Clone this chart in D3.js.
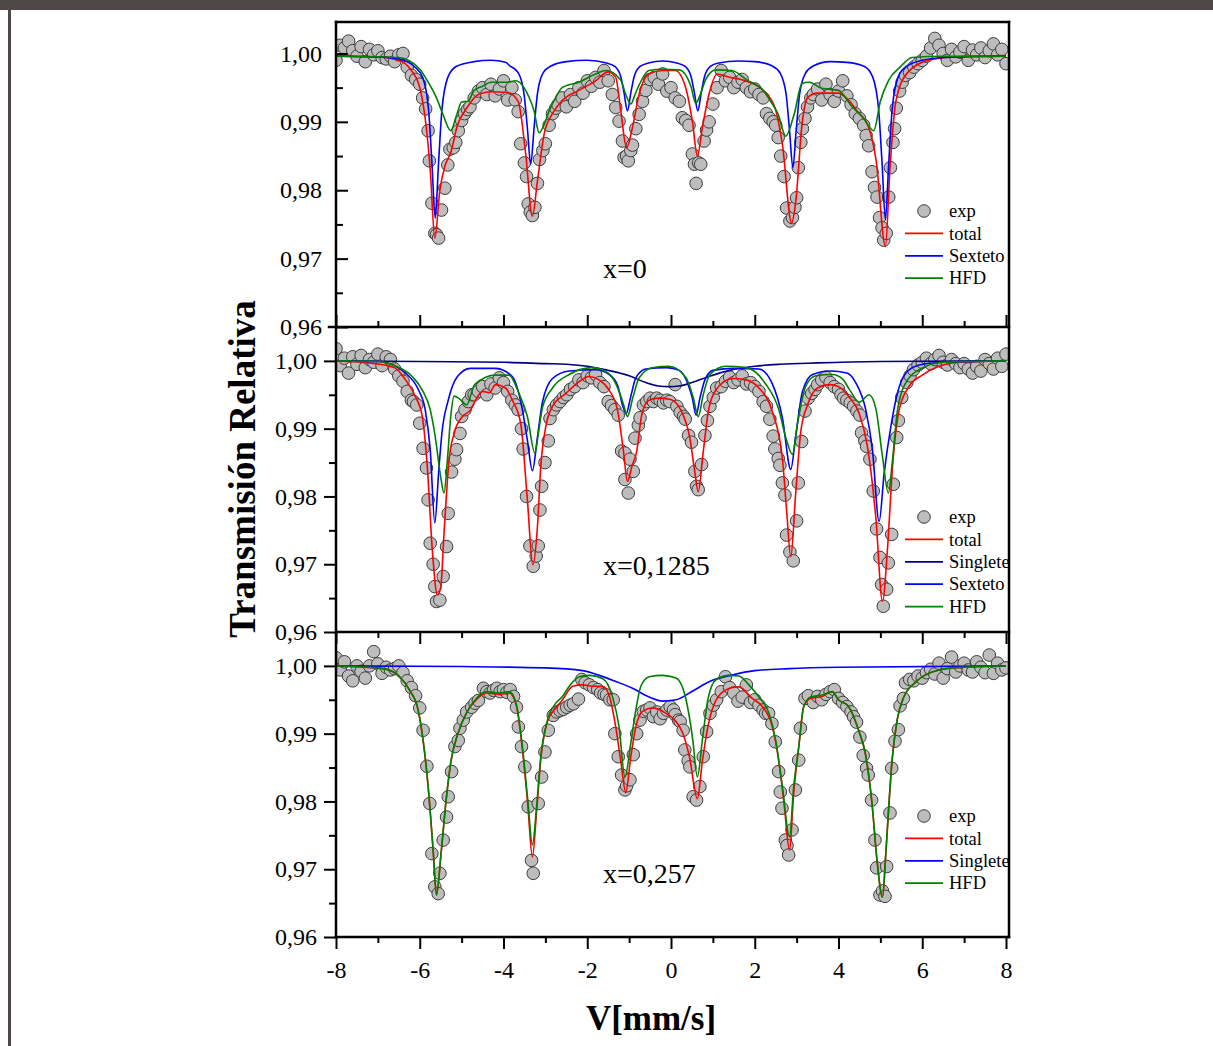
<!DOCTYPE html>
<html>
<head>
<meta charset="utf-8">
<script src="https://cdn.jsdelivr.net/npm/d3@7"></script>
<style>
  body { margin: 0; background: #fff; }
  svg { display: block; font-family: "Liberation Serif", "Times New Roman", serif; }
</style>
</head>
<body>
<svg id="chart" width="1213" height="1046"></svg>
<script>
// axis ticks
var velocityTicks = [-8, -6, -4, -2, 0, 2, 4, 6, 8];
var velocityMinor = [-7, -5, -3, -1, 1, 3, 5, 7];
var transTicks = [0.96, 0.97, 0.98, 0.99, 1.0];
var transMinor = [0.965, 0.975, 0.985, 0.995];

// ---- x = 0 ----
var exp0 = [[-8.0,0.9990],[-7.9,1.0012],[-7.8,1.0008],[-7.7,1.0018],[-7.6,1.0004],[-7.5,0.9996],[-7.4,1.0010],[-7.3,0.9988],[-7.2,1.0006],[-7.1,0.9998],
  [-7.0,1.0004],[-6.9,0.9994],[-6.8,0.9992],[-6.7,0.9996],[-6.6,0.9988],[-6.5,0.9998],[-6.4,1.0000],[-6.3,0.9980],[-6.2,0.9968],[-6.1,0.9962],
  [-6.0,0.9955],[-5.93,0.9935],[-5.86,0.9919],[-5.8,0.9887],[-5.77,0.9843],[-5.71,0.9781],[-5.64,0.9737],[-5.6,0.9735],[-5.55,0.9730],[-5.48,0.9771],
  [-5.4,0.9803],[-5.33,0.9837],[-5.28,0.9860],[-5.2,0.9862],[-5.14,0.9870],[-5.08,0.9887],[-5.0,0.9902],[-4.93,0.9912],[-4.86,0.9918],
  [-4.8,0.9922],[-4.7,0.9935],[-4.6,0.9945],[-4.5,0.9950],[-4.4,0.9940],[-4.3,0.9955],[-4.2,0.9938],[-4.1,0.9948],[-4.0,0.9960],[-3.9,0.9932],[-3.8,0.9950],
  [-3.72,0.9932],[-3.65,0.9915],[-3.59,0.9868],[-3.5,0.9840],[-3.45,0.9820],[-3.41,0.9780],[-3.36,0.9768],[-3.31,0.9763],[-3.25,0.9775],[-3.19,0.9810],
  [-3.14,0.9845],[-3.06,0.9858],[-3.0,0.9868],[-2.91,0.9895],[-2.83,0.9912],[-2.75,0.9920],
  [-2.7,0.9925],[-2.6,0.9935],[-2.5,0.9922],[-2.4,0.9940],[-2.3,0.9930],[-2.2,0.9950],[-2.1,0.9942],[-2.0,0.9960],[-1.9,0.9952],[-1.8,0.9965],
  [-1.7,0.9958],[-1.6,0.9975],[-1.5,0.9960],
  [-1.4,0.9940],[-1.32,0.9921],[-1.24,0.9901],[-1.16,0.9872],[-1.12,0.9848],[-1.06,0.9850],[-1.02,0.9843],[-0.96,0.9858],[-0.92,0.9866],[-0.84,0.9890],
  [-0.76,0.9911],[-0.68,0.9930],[-0.6,0.9946],
  [-0.5,0.9962],[-0.4,0.9965],[-0.3,0.9955],[-0.2,0.9970],[-0.1,0.9945],[0.0,0.9950],[0.1,0.9935],
  [0.2,0.9930],[0.27,0.9906],[0.35,0.9902],[0.43,0.9895],[0.51,0.9853],[0.56,0.9838],[0.6,0.9810],[0.66,0.9840],[0.71,0.9838],[0.79,0.9872],
  [0.85,0.9888],[0.91,0.9900],[1.0,0.9926],
  [1.1,0.9950],[1.2,0.9975],[1.3,0.9960],[1.4,0.9965],[1.5,0.9950],[1.6,0.9958],[1.7,0.9962],[1.8,0.9950],[1.9,0.9944],[2.0,0.9948],[2.1,0.9940],
  [2.2,0.9935],[2.28,0.9912],[2.36,0.9905],[2.44,0.9900],[2.5,0.9895],[2.56,0.9877],[2.62,0.9850],[2.7,0.9820],[2.76,0.9774],[2.84,0.9755],
  [2.9,0.9760],[2.96,0.9775],[3.0,0.9789],[3.04,0.9833],[3.1,0.9870],[3.14,0.9890],[3.2,0.9905],[3.26,0.9922],[3.34,0.9935],
  [3.4,0.9940],[3.5,0.9948],[3.6,0.9932],[3.7,0.9955],[3.8,0.9940],[3.9,0.9930],[4.0,0.9945],[4.1,0.9960],[4.2,0.9938],[4.3,0.9925],[4.4,0.9912],[4.5,0.9905],
  [4.6,0.9895],[4.66,0.9880],[4.72,0.9865],[4.8,0.9827],[4.86,0.9804],[4.92,0.9790],[4.98,0.9760],[5.04,0.9745],[5.08,0.9727],[5.14,0.9737],
  [5.2,0.9790],[5.24,0.9833],[5.3,0.9870],[5.34,0.9890],[5.38,0.9920],[5.46,0.9945],[5.52,0.9958],
  [5.6,0.9968],[5.7,0.9972],[5.8,0.9980],[5.9,0.9985],
  [6.0,0.9990],[6.1,0.9996],[6.2,1.0008],[6.3,1.0022],[6.4,1.0012],[6.5,1.0000],[6.6,0.9990],[6.7,1.0006],[6.8,0.9995],[6.9,1.0002],
  [7.0,1.0010],[7.1,0.9990],[7.2,1.0005],[7.3,0.9998],[7.4,1.0008],[7.5,0.9994],[7.6,1.0004],[7.7,1.0014],[7.8,0.9998],[7.9,1.0006],[8.0,0.9985]];
var total0 = [[-8,0.9997],[-7.5,0.9996],[-7,0.9995],[-6.5,0.999],[-6.2,0.9975],[-6.0,0.995],[-5.85,0.9895],[-5.75,0.983],[-5.64,0.973],[-5.52,0.98],
  [-5.4,0.9835],[-5.26,0.9855],[-5.1,0.9895],[-4.9,0.9918],[-4.6,0.994],[-4.3,0.9944],[-3.9,0.9943],[-3.65,0.993],[-3.47,0.9853],[-3.31,0.9762],
  [-3.19,0.9813],[-3.03,0.9882],[-2.83,0.9912],[-2.6,0.9931],[-2.2,0.9946],[-1.8,0.996],[-1.5,0.9973],[-1.32,0.9965],[-1.2,0.9916],[-1.06,0.9862],
  [-0.92,0.9892],[-0.76,0.9941],[-0.53,0.997],[-0.2,0.9975],[0.1,0.9975],[0.35,0.995],[0.51,0.9901],[0.63,0.985],[0.75,0.9892],[0.91,0.9941],
  [1.1,0.997],[1.35,0.9966],[1.82,0.9959],[2.2,0.9946],[2.48,0.9921],[2.66,0.9867],[2.88,0.9752],[2.98,0.9784],[3.13,0.9897],[3.27,0.9936],
  [3.5,0.9942],[4.0,0.9942],[4.25,0.9931],[4.44,0.9916],[4.72,0.9892],[4.9,0.9843],[5.12,0.9718],[5.23,0.9833],[5.37,0.993],[5.65,0.9972],
  [6.2,0.9991],[7,0.9996],[8,0.9997]];
var sexteto0 = [[-8,0.9996],[-7,0.9995],[-6.5,0.9992],[-6.13,0.9981],[-5.93,0.9965],[-5.79,0.9918],[-5.71,0.9841],[-5.63,0.9759],[-5.55,0.9841],[-5.47,0.9918],
  [-5.33,0.9965],[-5.13,0.9981],[-4.7,0.9988],[-4.3,0.999],[-3.95,0.9987],[-3.85,0.9982],[-3.65,0.9972],[-3.51,0.9941],[-3.43,0.9891],[-3.35,0.9838],
  [-3.27,0.9891],[-3.19,0.9941],[-3.05,0.9972],[-2.85,0.9982],[-2.5,0.9988],[-2.0,0.999],[-1.54,0.9986],[-1.34,0.9981],[-1.2,0.9966],[-1.12,0.9942],
  [-1.04,0.9916],[-0.96,0.9942],[-0.88,0.9966],[-0.74,0.9981],[-0.54,0.9986],[-0.2,0.9989],[0.14,0.9986],[0.34,0.9981],[0.48,0.9966],[0.56,0.9942],
  [0.64,0.9916],[0.72,0.9942],[0.8,0.9966],[0.94,0.9981],[1.14,0.9986],[1.6,0.9989],[2.0,0.9988],[2.41,0.9982],[2.61,0.9971],[2.75,0.994],
  [2.83,0.9888],[2.91,0.9833],[2.99,0.9888],[3.07,0.994],[3.21,0.9971],[3.41,0.9982],[3.8,0.9988],[4.2,0.9987],[4.62,0.9981],[4.82,0.9965],
  [4.96,0.9917],[5.04,0.984],[5.12,0.9757],[5.2,0.984],[5.28,0.9917],[5.42,0.9965],[5.62,0.9981],[6.0,0.999],[6.5,0.9994],[7,0.9995],[8,0.9996]];
var hfd0 = [[-8,0.9996],[-7,0.9995],[-6.5,0.9994],[-6.0,0.9977],[-5.77,0.9955],[-5.6,0.9935],[-5.44,0.991],[-5.26,0.9887],[-5.12,0.991],[-5.0,0.9929],
  [-4.85,0.993],[-4.7,0.9946],[-4.5,0.9952],[-4.3,0.9958],[-3.9,0.9958],[-3.71,0.996],[-3.51,0.995],[-3.39,0.9936],[-3.27,0.9916],[-3.15,0.9884],
  [-3.03,0.9896],[-2.91,0.9916],[-2.75,0.9936],[-2.6,0.995],[-2.2,0.9958],[-1.8,0.997],[-1.55,0.9975],[-1.2,0.9961],[-1.08,0.994],[-0.96,0.9926],
  [-0.86,0.994],[-0.76,0.9954],[-0.53,0.9975],[-0.2,0.9977],[0.2,0.9976],[0.47,0.9953],[0.59,0.9927],[0.7,0.994],[0.83,0.9962],[1.07,0.9976],
  [1.45,0.9975],[1.82,0.9961],[2.2,0.9946],[2.38,0.993],[2.56,0.9911],[2.74,0.9879],[2.94,0.9911],[3.13,0.9956],[3.3,0.9958],[3.6,0.9949],
  [4.0,0.9946],[4.3,0.9924],[4.6,0.9905],[4.84,0.9887],[5.0,0.993],[5.19,0.996],[5.47,0.998],[5.76,0.9994],[6.5,0.9996],[8,0.9996]];

// ---- x = 0,1285 ----
var exp1285 = [[-8.0,1.0018],[-7.9,0.9993],[-7.8,1.0004],[-7.7,0.9982],[-7.6,1.0006],[-7.5,0.9995],[-7.4,1.0008],[-7.3,0.9990],[-7.2,1.0002],[-7.1,0.9998],
  [-7.0,1.0010],[-6.9,0.9993],[-6.8,1.0006],[-6.7,1.0002],[-6.6,0.9988],[-6.5,0.9978],[-6.4,0.9970],[-6.3,0.9955],
  [-6.2,0.9942],[-6.15,0.9940],[-6.07,0.9935],[-6.0,0.9908],[-5.92,0.9871],[-5.84,0.9842],[-5.8,0.9795],[-5.75,0.9731],[-5.68,0.9700],[-5.64,0.9667],
  [-5.6,0.9645],[-5.52,0.9647],[-5.44,0.9682],[-5.36,0.9726],[-5.32,0.9775],[-5.24,0.9836],[-5.16,0.9855],[-5.12,0.9869],[-5.04,0.9893],[-5.0,0.9918],
  [-4.92,0.9928],[-4.84,0.9940],[-4.76,0.9950],
  [-4.7,0.9950],[-4.6,0.9955],[-4.5,0.9962],[-4.4,0.9950],[-4.3,0.9966],[-4.2,0.9960],[-4.1,0.9975],[-4.0,0.9968],[-3.9,0.9955],
  [-3.8,0.9942],[-3.72,0.9935],[-3.65,0.9928],[-3.57,0.9900],[-3.53,0.9870],[-3.45,0.9800],[-3.37,0.9727],[-3.29,0.9697],[-3.22,0.9712],[-3.17,0.9727],
  [-3.13,0.9780],[-3.09,0.9815],[-3.01,0.9850],[-2.93,0.9882],[-2.89,0.9915],[-2.81,0.9928],[-2.73,0.9935],[-2.65,0.9940],[-2.57,0.9946],[-2.49,0.9950],
  [-2.4,0.9958],[-2.3,0.9962],[-2.2,0.9972],[-2.1,0.9968],[-2.0,0.9978],[-1.9,0.9975],[-1.8,0.9980],[-1.7,0.9968],[-1.6,0.9962],
  [-1.5,0.9940],[-1.42,0.9934],[-1.34,0.9928],[-1.26,0.9920],[-1.18,0.9867],[-1.1,0.9825],[-1.1,0.9864],[-1.02,0.9805],[-0.98,0.9855],[-0.9,0.9837],
  [-0.86,0.9886],[-0.78,0.9905],[-0.74,0.9916],[-0.66,0.9935],[-0.58,0.9940],[-0.5,0.9945],[-0.42,0.9940],[-0.34,0.9945],[-0.26,0.9942],[-0.18,0.9938],
  [-0.1,0.9942],[-0.03,0.9940],[0.1,0.9965],[0.14,0.9933],[0.22,0.9924],[0.3,0.9918],[0.34,0.9914],[0.42,0.9890],[0.49,0.9880],[0.57,0.9837],
  [0.61,0.9815],[0.65,0.9810],[0.73,0.9847],[0.81,0.9890],[0.87,0.9912],[0.93,0.9933],[1.01,0.9946],[1.09,0.9960],
  [1.2,0.9962],[1.3,0.9970],[1.4,0.9976],[1.5,0.9968],[1.6,0.9972],[1.7,0.9978],[1.8,0.9966],[1.9,0.9968],[2.0,0.9962],[2.1,0.9955],
  [2.2,0.9940],[2.28,0.9933],[2.36,0.9914],[2.44,0.9889],[2.48,0.9870],[2.56,0.9856],[2.6,0.9846],[2.66,0.9820],[2.72,0.9802],[2.76,0.9743],
  [2.84,0.9718],[2.92,0.9705],[3.0,0.9764],[3.04,0.9820],[3.12,0.9881],[3.2,0.9926],[3.28,0.9945],[3.36,0.9952],
  [3.44,0.9958],[3.5,0.9965],[3.6,0.9972],[3.7,0.9976],[3.8,0.9968],[3.9,0.9962],[4.0,0.9958],[4.06,0.9950],
  [4.12,0.9945],[4.2,0.9942],[4.28,0.9938],[4.36,0.9933],[4.44,0.9926],[4.51,0.9920],[4.55,0.9894],[4.63,0.9882],[4.67,0.9874],[4.75,0.9855],
  [4.83,0.9808],[4.91,0.9752],[4.99,0.9710],[5.03,0.9670],[5.07,0.9638],[5.15,0.9663],[5.19,0.9702],[5.27,0.9744],[5.31,0.9818],[5.39,0.9887],
  [5.43,0.9912],[5.51,0.9946],[5.63,0.9968],[5.71,0.9978],[5.79,0.9987],
  [5.9,0.9994],[6.0,0.9998],[6.1,1.0004],[6.2,0.9996],[6.3,1.0002],[6.4,1.0008],[6.5,0.9998],[6.6,0.9994],[6.7,1.0002],[6.8,0.9996],[6.9,0.9990],
  [7.0,0.9996],[7.1,0.9988],[7.2,0.9982],[7.3,0.9992],[7.4,0.9985],[7.5,1.0002],[7.6,0.9996],[7.7,0.9988],[7.8,1.0004],[7.9,0.9992],[8.0,1.0010]];
var total1285 = [[-8,1.0],[-7.2,0.9997],[-6.6,0.999],[-6.34,0.9972],[-6.1,0.9947],[-5.94,0.9918],[-5.82,0.9844],[-5.7,0.9721],[-5.58,0.9655],[-5.5,0.9665],
  [-5.42,0.9746],[-5.3,0.9854],[-5.18,0.9893],[-4.98,0.9918],[-4.78,0.9928],[-4.7,0.9938],[-4.5,0.9955],[-4.34,0.9953],[-4.19,0.9965],[-3.95,0.996],
  [-3.79,0.9942],[-3.59,0.9908],[-3.43,0.9795],[-3.3,0.9699],[-3.19,0.9755],[-3.11,0.9844],[-2.99,0.9903],[-2.83,0.9933],[-2.51,0.9952],[-2.2,0.9969],
  [-1.96,0.9977],[-1.72,0.9972],[-1.48,0.9957],[-1.28,0.9928],[-1.14,0.9869],[-1.04,0.9822],[-0.93,0.9845],[-0.82,0.9866],[-0.7,0.992],[-0.53,0.9942],
  [-0.3,0.9945],[-0.01,0.9943],[0.23,0.9928],[0.45,0.9886],[0.56,0.984],[0.65,0.9807],[0.77,0.9866],[0.89,0.9925],[1.07,0.9957],[1.47,0.9974],
  [1.79,0.9972],[2.1,0.996],[2.42,0.9925],[2.66,0.9856],[2.76,0.978],[2.86,0.9711],[2.98,0.9807],[3.1,0.9896],[3.26,0.9935],[3.5,0.996],
  [3.8,0.9965],[4.0,0.9962],[4.25,0.9947],[4.49,0.9923],[4.69,0.9874],[4.89,0.977],[5.05,0.9645],[5.17,0.9723],[5.29,0.9844],[5.45,0.9928],
  [5.68,0.9962],[6.0,0.9979],[6.4,0.9992],[6.9,0.9998],[8,1.0]];
var singlete1285 = [[-8,1.0],[-6,0.9999],[-4,0.9998],[-3,0.9996],[-2.5,0.9995],[-2,0.9992],[-1.5,0.9986],[-1.0,0.9978],[-0.6,0.9968],[-0.3,0.9963],
  [-0.05,0.9962],[0.2,0.9963],[0.5,0.9968],[0.9,0.9977],[1.4,0.9986],[2,0.9992],[2.6,0.9995],[3.5,0.9997],[5,0.9999],[8,1.0]];
var sexteto1285 = [[-8,1.0],[-7,0.9999],[-6.6,0.9993],[-6.34,0.9982],[-6.03,0.9957],[-5.87,0.9928],[-5.75,0.9869],[-5.64,0.9761],[-5.55,0.9835],[-5.47,0.9894],
  [-5.32,0.9942],[-5.1,0.9977],[-4.79,0.9989],[-4.2,0.9989],[-3.79,0.9977],[-3.55,0.9928],[-3.43,0.9883],[-3.31,0.9838],[-3.19,0.9887],[-3.07,0.9939],
  [-2.83,0.9974],[-2.43,0.9985],[-1.8,0.9987],[-1.48,0.998],[-1.27,0.9963],[-1.16,0.9935],[-1.07,0.9922],[-0.97,0.9945],[-0.84,0.9975],[-0.6,0.9988],
  [-0.1,0.999],[0.2,0.9986],[0.41,0.9965],[0.51,0.9945],[0.6,0.992],[0.69,0.9945],[0.81,0.9972],[1.0,0.9986],[1.5,0.9989],[2.1,0.9988],
  [2.42,0.9966],[2.66,0.9916],[2.86,0.984],[2.98,0.989],[3.14,0.9955],[3.38,0.998],[3.8,0.9985],[4.2,0.9982],[4.41,0.9968],[4.65,0.9928],
  [4.81,0.9869],[4.97,0.9763],[5.09,0.9834],[5.25,0.9903],[5.41,0.9953],[5.61,0.9982],[5.93,0.9994],[6.5,0.9998],[8,1.0]];
var hfd1285 = [[-8,1.0],[-7,0.9999],[-6.63,0.9994],[-6.18,0.9977],[-5.94,0.9957],[-5.75,0.9928],[-5.63,0.9888],[-5.5,0.9829],[-5.42,0.9805],[-5.34,0.9854],
  [-5.26,0.9918],[-5.18,0.9948],[-5.05,0.9944],[-4.88,0.9935],[-4.69,0.9965],[-4.19,0.9979],[-3.87,0.9979],[-3.63,0.9952],[-3.43,0.9918],[-3.25,0.9864],
  [-3.17,0.9892],[-3.07,0.9931],[-2.83,0.996],[-2.43,0.998],[-1.88,0.999],[-1.5,0.9982],[-1.24,0.9955],[-1.13,0.9935],[-1.04,0.9918],[-0.91,0.9946],
  [-0.76,0.9975],[-0.45,0.999],[-0.05,0.9992],[0.36,0.9975],[0.53,0.9946],[0.65,0.9918],[0.77,0.995],[0.93,0.998],[1.31,0.9992],[1.79,0.999],
  [2.26,0.9966],[2.58,0.9927],[2.74,0.9887],[2.9,0.9862],[3.02,0.9907],[3.22,0.9963],[3.46,0.9978],[3.86,0.998],[4.1,0.9973],[4.26,0.9958],
  [4.5,0.9939],[4.73,0.995],[4.89,0.993],[5.05,0.9859],[5.19,0.9805],[5.29,0.9854],[5.41,0.9928],[5.61,0.9968],[5.93,0.9987],[6.5,0.9998],[8,1.0]];

// ---- x = 0,257 ----
var exp257 = [[-8.0,1.0012],[-7.9,0.9994],[-7.8,1.0006],[-7.7,0.9985],[-7.6,0.9978],[-7.5,1.0000],[-7.4,0.9992],[-7.3,0.9982],[-7.2,1.0000],[-7.1,1.0021],
  [-7.0,1.0003],[-6.9,0.9989],[-6.8,0.9998],[-6.7,0.9994],[-6.6,0.9996],[-6.5,1.0000],[-6.4,0.9990],[-6.3,0.9978],[-6.2,0.9968],[-6.1,0.9956],
  [-6.0,0.9938],[-5.92,0.9905],[-5.83,0.9852],[-5.76,0.9797],[-5.71,0.9723],[-5.64,0.9674],[-5.56,0.9664],[-5.52,0.9694],[-5.44,0.9743],[-5.36,0.9777],
  [-5.32,0.9807],[-5.24,0.9844],[-5.16,0.9881],[-5.08,0.9890],[-5.04,0.9908],[-4.96,0.9920],[-4.88,0.9932],[-4.76,0.9939],[-4.68,0.9945],[-4.6,0.9949],
  [-4.48,0.9967],[-4.4,0.9962],[-4.32,0.9960],[-4.24,0.9964],[-4.16,0.9967],[-4.08,0.9962],[-4.0,0.9965],[-3.92,0.9961],[-3.84,0.9965],[-3.76,0.9955],
  [-3.69,0.9939],[-3.645,0.9910],[-3.57,0.9881],[-3.49,0.9851],[-3.41,0.9792],[-3.33,0.9713],[-3.29,0.9694],[-3.17,0.9797],[-3.09,0.9836],[-3.01,0.9873],
  [-2.93,0.9905],[-2.81,0.9927],[-2.73,0.9932],[-2.65,0.9934],[-2.57,0.9936],[-2.49,0.9939],[-2.41,0.9942],[-2.33,0.9944],[-2.21,0.9951],[-2.13,0.9980],
  [-2.05,0.9975],[-1.95,0.9972],[-1.85,0.9968],[-1.75,0.9965],[-1.68,0.9960],
  [-1.6,0.9958],[-1.54,0.9957],[-1.46,0.9950],[-1.38,0.9950],[-1.34,0.9900],[-1.26,0.9866],[-1.18,0.9839],[-1.1,0.9817],[-1.06,0.9823],[-0.98,0.9832],
  [-0.9,0.9869],[-0.82,0.9900],[-0.74,0.9920],[-0.66,0.9933],[-0.58,0.9935],[-0.5,0.9938],[-0.42,0.9925],[-0.34,0.9932],[-0.26,0.9922],[-0.18,0.9930],
  [-0.1,0.9935],[-0.02,0.9940],[0.06,0.9935],[0.1,0.9928],[0.18,0.9920],[0.22,0.9918],[0.29,0.9905],[0.33,0.9876],[0.41,0.9860],[0.45,0.9851],
  [0.53,0.9807],[0.61,0.9802],[0.69,0.9822],[0.77,0.9866],[0.85,0.9903],[0.93,0.9930],[1.01,0.9942],[1.09,0.9950],
  [1.2,0.9962],[1.3,0.9984],[1.4,0.9968],[1.5,0.9960],[1.6,0.9948],[1.7,0.9954],[1.8,0.9972],[1.9,0.9946],[2.0,0.9950],[2.1,0.9942],
  [2.2,0.9935],[2.26,0.9930],[2.33,0.9930],[2.41,0.9915],[2.49,0.9888],[2.57,0.9844],[2.61,0.9814],[2.65,0.9790],[2.73,0.9743],[2.77,0.9735],
  [2.81,0.9721],[2.89,0.9758],[2.97,0.9817],[3.05,0.9861],[3.09,0.9908],[3.2,0.9952],[3.28,0.9956],
  [3.4,0.9946],[3.5,0.9955],[3.6,0.9950],[3.7,0.9958],[3.8,0.9962],[3.9,0.9965],[4.0,0.9952],[4.1,0.9946],[4.2,0.9940],
  [4.3,0.9932],[4.36,0.9925],[4.43,0.9917],[4.51,0.9895],[4.59,0.9868],[4.67,0.9849],[4.71,0.9839],[4.79,0.9802],[4.87,0.9743],[4.91,0.9702],
  [4.99,0.9662],[5.05,0.9668],[5.11,0.9660],[5.15,0.9704],[5.23,0.9783],[5.27,0.9849],[5.35,0.9889],[5.43,0.9906],[5.47,0.9941],[5.55,0.9952],[5.6,0.9975],
  [5.7,0.9980],[5.8,0.9978],[5.9,0.9985],[6.0,0.9982],[6.1,0.9990],[6.2,0.9995],[6.3,0.9988],[6.4,1.0004],[6.5,0.9982],[6.6,0.9996],[6.7,1.0013],
  [6.8,0.9991],[6.9,1.0000],[7.0,1.0004],[7.1,0.9994],[7.2,0.9991],[7.3,1.0006],[7.4,0.9998],[7.5,0.9990],[7.6,1.0016],[7.7,0.9989],[7.8,1.0004],
  [7.9,0.9994],[8.0,0.9997]];
var total257 = [[-8,1.0],[-6.87,0.9996],[-6.48,0.9984],[-6.24,0.9964],[-6.04,0.9935],[-5.92,0.989],[-5.8,0.9822],[-5.68,0.9728],[-5.6,0.9662],[-5.49,0.9724],
  [-5.37,0.9802],[-5.25,0.9861],[-5.09,0.99],[-4.89,0.993],[-4.65,0.995],[-4.41,0.996],[-4.1,0.9958],[-3.86,0.996],[-3.7,0.9943],[-3.54,0.9872],
  [-3.42,0.9795],[-3.31,0.9718],[-3.21,0.9785],[-3.11,0.9862],[-2.95,0.9918],[-2.75,0.9938],[-2.59,0.995],[-2.35,0.997],[-2.11,0.9972],[-1.87,0.997],
  [-1.63,0.997],[-1.47,0.9955],[-1.32,0.991],[-1.2,0.986],[-1.08,0.9813],[-0.96,0.9866],[-0.84,0.991],[-0.68,0.9933],[-0.44,0.9938],[-0.12,0.993],
  [0.12,0.9918],[0.28,0.9901],[0.44,0.9866],[0.63,0.9804],[0.75,0.986],[0.88,0.991],[1.08,0.995],[1.4,0.9967],[1.62,0.9969],[1.94,0.9952],
  [2.18,0.994],[2.42,0.991],[2.58,0.9857],[2.7,0.9797],[2.83,0.9728],[2.93,0.9812],[3.05,0.988],[3.17,0.994],[3.33,0.9952],[3.61,0.9955],
  [3.85,0.9962],[4.0,0.995],[4.24,0.994],[4.48,0.9905],[4.64,0.9871],[4.8,0.9797],[4.92,0.9713],[5.05,0.9659],[5.13,0.9723],[5.2,0.9792],
  [5.28,0.9861],[5.4,0.992],[5.56,0.9954],[5.84,0.9976],[6.4,0.9994],[7,0.9998],[8,1.0]];
var singlete257 = [[-8,1.0],[-5,0.9999],[-3,0.9997],[-2.11,0.9993],[-1.71,0.9986],[-1.32,0.9977],[-0.92,0.9967],[-0.52,0.9954],[-0.2,0.9948],[0.12,0.995],
  [0.52,0.9963],[0.92,0.9977],[1.48,0.9987],[2.0,0.9993],[2.82,0.9996],[4,0.9998],[8,1.0]];
var hfd257 = [[-8,1.0],[-6.87,0.9996],[-6.48,0.9984],[-6.24,0.9964],[-6.04,0.9935],[-5.92,0.989],[-5.8,0.9822],[-5.68,0.9728],[-5.6,0.9662],[-5.49,0.9724],
  [-5.37,0.9802],[-5.25,0.9861],[-5.09,0.99],[-4.89,0.993],[-4.65,0.9952],[-4.41,0.9962],[-4.1,0.996],[-3.86,0.9962],[-3.7,0.9945],[-3.54,0.9876],
  [-3.42,0.9802],[-3.31,0.9736],[-3.21,0.9792],[-3.11,0.9866],[-2.95,0.992],[-2.75,0.9945],[-2.59,0.9955],[-2.43,0.997],[-2.19,0.9984],[-1.95,0.9986],
  [-1.63,0.9981],[-1.4,0.9955],[-1.24,0.991],[-1.1,0.9836],[-0.96,0.9886],[-0.84,0.9935],[-0.72,0.997],[-0.52,0.9984],[-0.2,0.9986],[0.12,0.9982],
  [0.36,0.995],[0.52,0.9891],[0.63,0.9836],[0.75,0.9891],[0.88,0.995],[1.08,0.998],[1.4,0.9986],[1.62,0.9985],[1.86,0.9972],[2.1,0.9954],
  [2.34,0.993],[2.5,0.989],[2.66,0.9822],[2.83,0.9748],[2.93,0.9822],[3.05,0.988],[3.17,0.994],[3.33,0.9954],[3.61,0.9957],[3.85,0.9962],
  [4.0,0.995],[4.24,0.994],[4.48,0.9905],[4.64,0.9871],[4.8,0.9797],[4.92,0.9713],[5.05,0.9659],[5.13,0.9723],[5.2,0.9792],[5.28,0.9861],
  [5.4,0.992],[5.56,0.9954],[5.84,0.9976],[6.4,0.9994],[7,0.9998],[8,1.0]];

var RED = "#ff0000", BLUE = "#0000ff", GREEN = "#008000", NAVY = "#000080";

var panels = [
  { top: 22, bottom: 327, yMax: 1.0046, inward: true, xLabels: false, label: "x=0", labelY: 278, legendY: 211,
    exp: exp0,
    fits: [{ name: "total", data: total0, color: RED }, { name: "Sexteto", data: sexteto0, color: BLUE }, { name: "HFD", data: hfd0, color: GREEN }] },
  { top: 327, bottom: 632, yMax: 1.005, inward: false, xLabels: false, label: "x=0,1285", labelY: 575, legendY: 517,
    exp: exp1285,
    fits: [{ name: "total", data: total1285, color: RED }, { name: "Singlete", data: singlete1285, color: NAVY },
           { name: "Sexteto", data: sexteto1285, color: BLUE }, { name: "HFD", data: hfd1285, color: GREEN }] },
  { top: 632, bottom: 937, yMax: 1.005, inward: false, xLabels: true, label: "x=0,257", labelY: 883, legendY: 816,
    exp: exp257,
    fits: [{ name: "total", data: total257, color: RED }, { name: "Singlete", data: singlete257, color: BLUE }, { name: "HFD", data: hfd257, color: GREEN }] }
];

var left = 336, right = 1006, frameRight = 1009;
var svg = d3.select("#chart");
var x = d3.scaleLinear().domain([-8, 8]).range([left, right]);
var fmt = d3.formatLocale({ decimal: ",", thousands: ".", grouping: [3], currency: ["", ""] }).format(".2f");

// page frame
svg.append("rect").attr("x", 0).attr("y", 0).attr("width", 1213).attr("height", 10).attr("fill", "#4f4846");
svg.append("rect").attr("x", 8).attr("y", 10).attr("width", 3).attr("height", 1036).attr("fill", "#4f4846");

function styleAxis(g, size) {
  g.select(".domain").remove();
  g.selectAll(".tick line").attr("stroke", "#000").attr("stroke-width", 2);
  g.selectAll(".tick text").attr("font-size", size).attr("font-family", "Liberation Serif").attr("fill", "#000");
}

panels.forEach(function (p, i) {
  var y = d3.scaleLinear().domain([0.96, p.yMax]).range([p.bottom, p.top]);
  var g = svg.append("g");
  var dir = p.inward ? -1 : 1;

  var clipId = "clip" + i;
  svg.append("clipPath").attr("id", clipId).append("rect")
    .attr("x", left).attr("y", p.top).attr("width", frameRight - left).attr("height", p.bottom - p.top);
  var plot = g.append("g").attr("clip-path", "url(#" + clipId + ")");

  plot.selectAll("circle").data(p.exp).join("circle")
    .attr("cx", function (d) { return x(d[0]); })
    .attr("cy", function (d) { return y(d[1]); })
    .attr("r", 6.3)
    .attr("fill", "#bdbdbd")
    .attr("stroke", "#3c3c3c")
    .attr("stroke-width", 1);

  var line = d3.line()
    .x(function (d) { return x(d[0]); })
    .y(function (d) { return y(d[1]); })
    .curve(d3.curveMonotoneX);

  plot.selectAll("path.fit").data(p.fits).join("path")
    .attr("class", "fit")
    .attr("d", function (d) { return line(d.data); })
    .attr("fill", "none")
    .attr("stroke", function (d) { return d.color; })
    .attr("stroke-width", 1.6);

  // y axis
  g.append("g").attr("transform", "translate(" + left + ",0)")
    .call(d3.axisLeft(y).tickValues(transTicks).tickSize(12 * dir).tickPadding(p.inward ? 14 : 7).tickFormat(fmt))
    .call(styleAxis, 24);
  g.append("g").attr("transform", "translate(" + left + ",0)")
    .call(d3.axisLeft(y).tickValues(transMinor).tickSize(7 * dir).tickFormat(""))
    .call(styleAxis, 24);

  // x axis
  g.append("g").attr("transform", "translate(0," + p.bottom + ")")
    .call(d3.axisBottom(x).tickValues(velocityTicks).tickSize(12 * dir).tickPadding(12)
      .tickFormat(p.xLabels ? function (d) { return d < 0 ? "-" + Math.abs(d) : String(d); } : ""))
    .call(styleAxis, 24);
  g.append("g").attr("transform", "translate(0," + p.bottom + ")")
    .call(d3.axisBottom(x).tickValues(velocityMinor).tickSize(6 * dir).tickFormat(""))
    .call(styleAxis, 24);

  // sample label
  g.append("text").attr("x", 603).attr("y", p.labelY)
    .attr("font-size", 28).text(p.label);

  // legend
  var rows = [{ name: "exp", circle: true }].concat(p.fits);
  var leg = g.append("g");
  rows.forEach(function (r, k) {
    var ly = p.legendY + k * 22.4;
    if (r.circle) {
      leg.append("circle").attr("cx", 924).attr("cy", ly).attr("r", 6.3)
        .attr("fill", "#bdbdbd").attr("stroke", "#3c3c3c").attr("stroke-width", 1);
    } else {
      leg.append("line").attr("x1", 905).attr("x2", 943).attr("y1", ly).attr("y2", ly)
        .attr("stroke", r.color).attr("stroke-width", 1.8);
    }
    leg.append("text").attr("x", 949).attr("y", ly).attr("dy", "0.33em")
      .attr("font-size", 18.5).text(r.name);
  });
});

// frame lines
var frame = svg.append("g").attr("stroke", "#000").attr("stroke-width", 2.5).attr("stroke-linecap", "square");
frame.append("line").attr("x1", left).attr("x2", left).attr("y1", 22).attr("y2", 937);
frame.append("line").attr("x1", frameRight).attr("x2", frameRight).attr("y1", 22).attr("y2", 937);
frame.append("line").attr("x1", left).attr("x2", frameRight).attr("y1", 22).attr("y2", 22);
frame.append("line").attr("x1", 329).attr("x2", frameRight).attr("y1", 327).attr("y2", 327);
frame.append("line").attr("x1", left).attr("x2", frameRight).attr("y1", 632).attr("y2", 632);
frame.append("line").attr("x1", left).attr("x2", frameRight).attr("y1", 937).attr("y2", 937);

// axis titles
svg.append("text")
  .attr("transform", "translate(255,469) rotate(-90)")
  .attr("text-anchor", "middle")
  .attr("font-size", 37).attr("font-weight", "bold")
  .text("Transmisión Relativa");
svg.append("text")
  .attr("x", 651).attr("y", 1030)
  .attr("text-anchor", "middle")
  .attr("font-size", 35).attr("font-weight", "bold")
  .text("V[mm/s]");
</script>
</body>
</html>
